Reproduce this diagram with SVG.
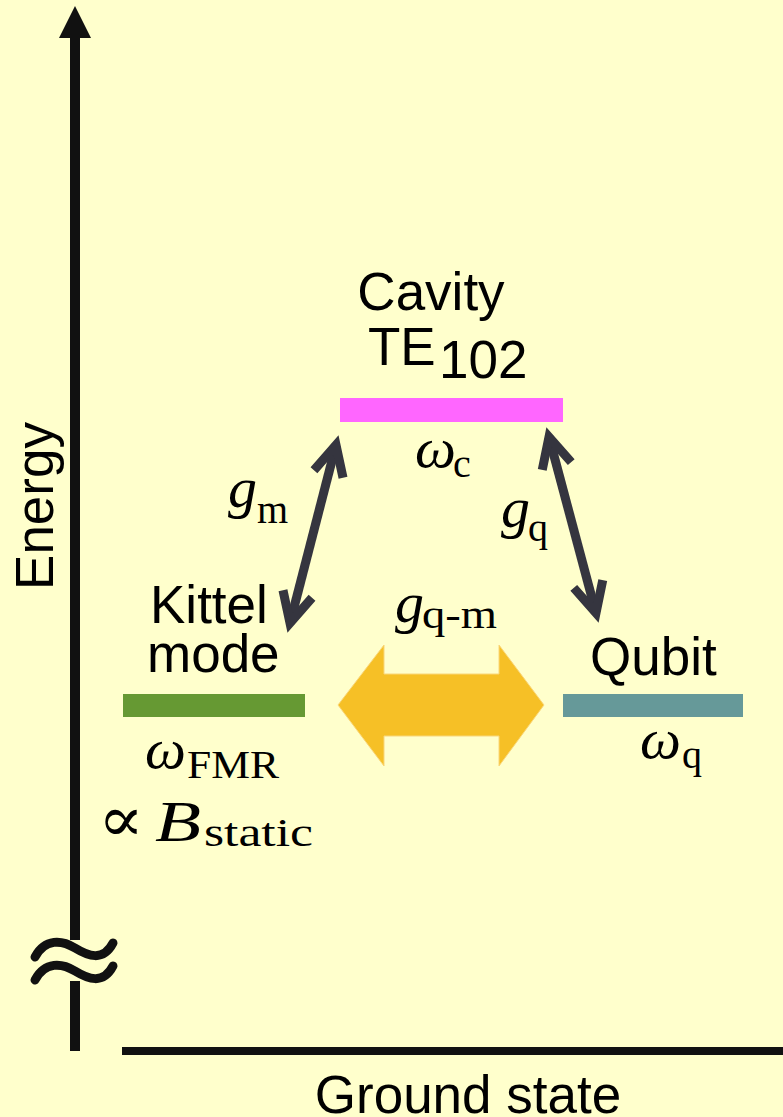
<svg xmlns="http://www.w3.org/2000/svg" width="783" height="1117" viewBox="0 0 783 1117">
  <style>
    .lbl { font-family: "Liberation Sans", Arial, sans-serif; font-size: 53px; fill: #000; }
    .mi { font-family: "Liberation Serif", "DejaVu Serif", serif; font-style: italic; font-size: 58px; fill: #000; }
    .sub { font-family: "Liberation Serif", "DejaVu Serif", serif; font-size: 40px; fill: #000; }
    .axis { stroke: #111; stroke-width: 10; fill: none; }
    .coupling { stroke: #35353f; stroke-width: 9; fill: none; }
  </style>
  <defs>
    <marker id="vhead" markerUnits="userSpaceOnUse" markerWidth="80" markerHeight="80" viewBox="-40 -40 80 80" refX="0" refY="0" orient="auto-start-reverse" overflow="visible">
      <path d="M-30,-15 L0,0 L-30,15" fill="none" stroke="#35353f" stroke-width="9" stroke-linejoin="miter"/>
    </marker>
  </defs>

  <!-- background -->
  <rect x="0" y="0" width="783" height="1117" fill="#ffffcc"/>

  <!-- energy axis with break mark -->
  <g id="energy-axis">
    <line class="axis" x1="75" y1="30" x2="75" y2="940"/>
    <line class="axis" x1="75" y1="981" x2="75" y2="1051"/>
    <polygon points="75,6 59,38 91,38" fill="#111"/>
    <path d="M35,957 C45,938 62,940 75,948 C88,956 103,962 113,943" stroke="#111" stroke-width="9" fill="none" stroke-linecap="round"/>
    <path d="M35,980 C45,961 62,963 75,971 C88,979 103,985 113,966" stroke="#111" stroke-width="9" fill="none" stroke-linecap="round"/>
    <text class="lbl" transform="translate(53,506) rotate(-90)" text-anchor="middle">Energy</text>
  </g>

  <!-- ground state level -->
  <g id="ground-state">
    <line x1="122" y1="1051" x2="783" y2="1051" stroke="#111" stroke-width="8"/>
    <text class="lbl" x="468" y="1113" text-anchor="middle" font-size="54">Ground state</text>
  </g>

  <!-- cavity mode -->
  <g id="cavity">
    <text class="lbl" x="431" y="310" text-anchor="middle">Cavity</text>
    <text class="lbl" x="368" y="365">TE</text>
    <text class="lbl" x="439" y="378" font-size="40">102</text>
    <rect x="340" y="398" width="223" height="24" fill="#ff66ff"/>
    <text class="mi" x="415" y="467">ω</text>
    <text class="sub" x="453" y="477">c</text>
  </g>

  <!-- Kittel mode -->
  <g id="kittel">
    <text class="lbl" x="150" y="623">Kittel</text>
    <text class="lbl" x="147" y="672">mode</text>
    <rect x="123" y="694" width="182" height="23" fill="#669933"/>
    <text class="mi" x="145" y="768">ω</text>
    <text class="sub" x="187" y="778" font-size="34" textLength="92" lengthAdjust="spacingAndGlyphs">FMR</text>
    <text x="98" y="841" font-family="'DejaVu Serif', serif" font-size="64" textLength="46" lengthAdjust="spacingAndGlyphs" fill="#000">∝</text>
    <text class="mi" x="155" y="841" font-size="62" textLength="46" lengthAdjust="spacingAndGlyphs">B</text>
    <text class="sub" x="204" y="846" textLength="109" lengthAdjust="spacingAndGlyphs">static</text>
  </g>

  <!-- qubit -->
  <g id="qubit">
    <text class="lbl" x="590" y="675">Qubit</text>
    <rect x="563" y="694" width="180" height="23" fill="#669999"/>
    <text class="mi" x="640" y="758">ω</text>
    <text class="sub" x="682" y="768">q</text>
  </g>

  <!-- couplings -->
  <g id="connectors">
    <line class="coupling" x1="290" y1="623" x2="336" y2="445" marker-start="url(#vhead)" marker-end="url(#vhead)"/>
    <line class="coupling" x1="549" y1="437" x2="596" y2="613" marker-start="url(#vhead)" marker-end="url(#vhead)"/>
    <polygon points="338,705 384,645 384,674 499,674 499,645 544,705 499,766 499,736 384,736 384,766" fill="#f6c026" stroke="#f9d67a" stroke-width="1"/>
    <text class="mi" x="228" y="507" font-size="56">g</text>
    <text class="sub" x="257" y="523">m</text>
    <text class="mi" x="501" y="527" font-size="56">g</text>
    <text class="sub" x="528" y="541">q</text>
    <text class="mi" x="395" y="622" font-size="56">g</text>
    <text class="sub" x="422" y="628" textLength="75" lengthAdjust="spacingAndGlyphs">q-m</text>
  </g>
</svg>
